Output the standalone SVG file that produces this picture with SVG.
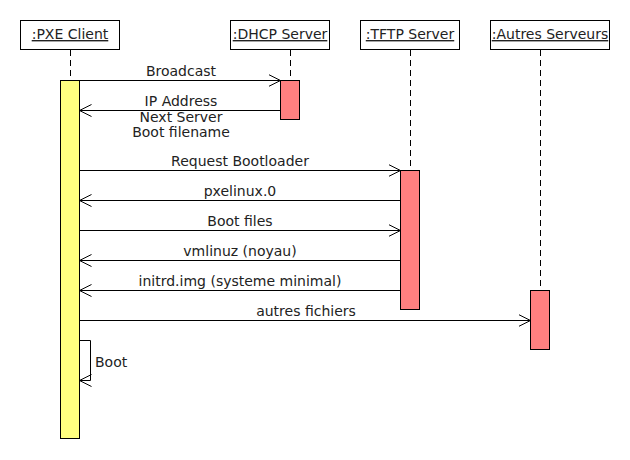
<svg xmlns="http://www.w3.org/2000/svg" width="630" height="460" viewBox="0 0 630 460">
<style>
text{font-family:"DejaVu Sans","Liberation Sans",sans-serif;font-size:14px;fill:#222}
.t{text-anchor:middle}
.title{text-decoration:underline}
.box{fill:#fff;stroke:#000;stroke-width:1}
.life{stroke:#000;stroke-width:1;stroke-dasharray:6,4;fill:none}
.actc{fill:#ffff80;stroke:#000;stroke-width:1}
.acts{fill:#ff8080;stroke:#000;stroke-width:1}
.msg{stroke:#000;stroke-width:1;fill:none;marker-end:url(#open)}
</style>
<defs>
<marker id="open" viewBox="0 0 13 14" refX="12" refY="7" markerWidth="13" markerHeight="14" orient="auto" markerUnits="userSpaceOnUse">
<path d="M0,1 L12,7 L0,13" fill="none" stroke="#000" stroke-width="1"/>
</marker>
</defs>
<rect width="630" height="460" fill="#fff"/>
<g id="pxe-client">
<rect class="box" x="20.5" y="20.5" width="99" height="29"/>
<text class="t title" x="70" y="39">:PXE Client</text>
<line class="life" x1="70.5" y1="50" x2="70.5" y2="80"/>
<rect class="actc" x="60.5" y="80.5" width="19" height="358"/>
</g>
<g id="dhcp-server">
<rect class="box" x="230.5" y="20.5" width="99" height="29"/>
<text class="t title" x="280" y="39">:DHCP Server</text>
<line class="life" x1="290.5" y1="50" x2="290.5" y2="80"/>
<rect class="acts" x="280.5" y="80.5" width="19" height="39"/>
</g>
<g id="tftp-server">
<rect class="box" x="360.5" y="20.5" width="99" height="29"/>
<text class="t title" x="410" y="39">:TFTP Server</text>
<line class="life" x1="410.5" y1="50" x2="410.5" y2="170"/>
<rect class="acts" x="400.5" y="170.5" width="19" height="139"/>
</g>
<g id="autres-serveurs">
<rect class="box" x="490.5" y="20.5" width="119" height="29"/>
<text class="t title" x="550" y="39">:Autres Serveurs</text>
<line class="life" x1="540.5" y1="50" x2="540.5" y2="290"/>
<rect class="acts" x="530.5" y="290.5" width="19" height="59"/>
</g>
<g id="connectors">
<line class="msg" x1="80" y1="80.5" x2="280.5" y2="80.5"/>
<text class="t" x="181" y="76">Broadcast</text>
<line class="msg" x1="280" y1="110.5" x2="79.5" y2="110.5"/>
<text class="t" x="181" y="106">IP Address</text>
<text class="t" x="181" y="122">Next Server</text>
<text class="t" x="181" y="137">Boot filename</text>
<line class="msg" x1="80" y1="170.5" x2="400.5" y2="170.5"/>
<text class="t" x="240" y="166">Request Bootloader</text>
<line class="msg" x1="400" y1="200.5" x2="79.5" y2="200.5"/>
<text class="t" x="240" y="196">pxelinux.0</text>
<line class="msg" x1="80" y1="230.5" x2="400.5" y2="230.5"/>
<text class="t" x="240" y="226">Boot files</text>
<line class="msg" x1="400" y1="260.5" x2="79.5" y2="260.5"/>
<text class="t" x="240" y="256">vmlinuz (noyau)</text>
<line class="msg" x1="400" y1="290.5" x2="79.5" y2="290.5"/>
<text class="t" x="240" y="286">initrd.img (systeme minimal)</text>
<line class="msg" x1="80" y1="320.5" x2="530.5" y2="320.5"/>
<text class="t" x="306" y="316">autres fichiers</text>
<path class="msg" d="M80,340.5 H90.5 V380.5 H79.5"/>
<text x="95" y="367">Boot</text>
</g>
</svg>
